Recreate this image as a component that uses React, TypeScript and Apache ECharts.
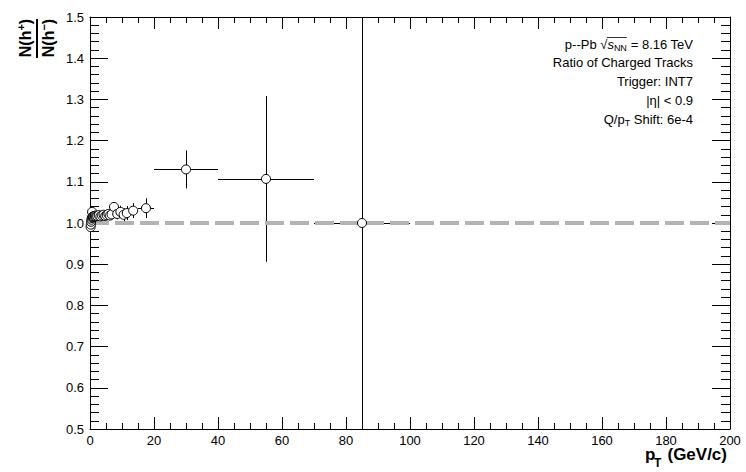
import React, { useEffect, useRef } from 'react';
import * as echarts from 'echarts';

// pT bins (GeV/c)
const binLow = [0.15, 0.2, 0.3, 0.4, 0.5, 0.6, 0.7, 0.8, 0.9, 1.0, 1.2, 1.4, 1.6, 1.8, 2.0, 2.5, 3.0, 3.5, 4.0, 4.5, 5.0, 5.5, 6.0, 6.5, 7.0, 8.0, 9.0, 10, 11, 12, 15, 20, 40, 70];
const binHigh = [0.2, 0.3, 0.4, 0.5, 0.6, 0.7, 0.8, 0.9, 1.0, 1.2, 1.4, 1.6, 1.8, 2.0, 2.5, 3.0, 3.5, 4.0, 4.5, 5.0, 5.5, 6.0, 6.5, 7.0, 8.0, 9.0, 10, 11, 12, 15, 20, 40, 70, 100];
const ptCenter = [0.175, 0.25, 0.35, 0.45, 0.55, 0.65, 0.75, 0.85, 0.95, 1.1, 1.3, 1.5, 1.7, 1.9, 2.25, 2.75, 3.25, 3.75, 4.25, 4.75, 5.25, 5.75, 6.25, 6.75, 7.5, 8.5, 9.5, 10.5, 11.5, 13.5, 17.5, 30, 55, 85];
// N(h+)/N(h-) ratio and its uncertainty
const ratio = [0.99, 0.996, 1.003, 1.008, 1.012, 1.027, 1.014, 1.015, 1.016, 1.015, 1.016, 1.017, 1.018, 1.016, 1.017, 1.019, 1.016, 1.018, 1.02, 1.017, 1.019, 1.022, 1.018, 1.021, 1.039, 1.022, 1.027, 1.02, 1.024, 1.03, 1.036, 1.13, 1.107, 1.0];
const ratioErr = [0.003, 0.003, 0.003, 0.003, 0.003, 0.003, 0.003, 0.003, 0.003, 0.003, 0.003, 0.003, 0.003, 0.003, 0.004, 0.004, 0.005, 0.005, 0.006, 0.006, 0.007, 0.008, 0.009, 0.01, 0.011, 0.013, 0.015, 0.016, 0.017, 0.018, 0.024, 0.046, 0.201, 0.9];

const legendLines = ['Ratio of Charged Tracks', 'Trigger: INT7', '|η| < 0.9'];

const FONT = '"Liberation Sans", Arial, Helvetica, sans-serif';

function measure(text: string, font: string): number {
  const ctx = document.createElement('canvas').getContext('2d');
  if (!ctx) return text.length * 6;
  ctx.font = font;
  return ctx.measureText(text).width;
}

export default function App() {
  const ref = useRef<HTMLDivElement>(null);
  useEffect(() => {
    const chart = echarts.init(ref.current!, undefined, { renderer: 'svg' });
    const points = ptCenter.map((x, i) => [x, ratio[i]]);
    const errData = ptCenter.map((x, i) => [x, ratio[i], binLow[i], binHigh[i], ratio[i] - ratioErr[i], ratio[i] + ratioErr[i]]);

    const xBase = {
      type: 'value', min: 0, max: 200, interval: 20,
      axisLine: { show: true, onZero: false, lineStyle: { color: '#000', width: 1 } },
      axisTick: { show: true, inside: true, length: 12, lineStyle: { color: '#000', width: 1 } },
      minorTick: { show: true, splitNumber: 4, length: 6, lineStyle: { color: '#000', width: 1 } },
      splitLine: { show: false }, minorSplitLine: { show: false },
    };
    const yBase = {
      type: 'value', min: 0.5, max: 1.5, interval: 0.1,
      axisLine: { show: true, onZero: false, lineStyle: { color: '#000', width: 1 } },
      axisTick: { show: true, inside: true, length: 18, lineStyle: { color: '#000', width: 1 } },
      minorTick: { show: true, splitNumber: 5, length: 9, lineStyle: { color: '#000', width: 1 } },
      splitLine: { show: false }, minorSplitLine: { show: false },
    };

    const LFS = 13;
    const legendText = (text: string, y: number) => ({
      type: 'text', x: 693, y,
      style: { text, fontSize: LFS, fontFamily: FONT, fill: '#000', align: 'right', verticalAlign: 'middle' },
    });

    // overline of the square root in the first legend line
    const wTail = measure(' = 8.16 TeV', `${LFS}px ${FONT}`);
    const wSub = measure('NN', `9px ${FONT}`);
    const wS = measure('s', `italic ${LFS}px ${FONT}`);
    const olX2 = 693 - wTail;
    const olX1 = olX2 - wSub - wS - 0.5;

    const option: any = {
      animation: false,
      grid: { left: 90, right: 16, top: 17, bottom: 43 },
      xAxis: [
        { ...xBase, position: 'bottom', axisLabel: { color: '#000', fontSize: 13, fontFamily: FONT, margin: 5 } },
        { ...xBase, position: 'top', axisLabel: { show: false } },
      ],
      yAxis: [
        { ...yBase, position: 'left', axisLabel: { color: '#000', fontSize: 13, fontFamily: FONT, margin: 6, formatter: (v: number) => v.toFixed(1) } },
        { ...yBase, position: 'right', axisLabel: { show: false } },
      ],
      series: [
        {
          type: 'custom', clip: true, z: 2, silent: true,
          encode: { x: 0, y: 1 },
          data: errData,
          renderItem: (params: any, api: any) => {
            const x = api.value(0), y = api.value(1);
            const c = api.coord([x, y]);
            const l = api.coord([api.value(2), y]);
            const r = api.coord([api.value(3), y]);
            const lo = api.coord([x, api.value(4)]);
            const hi = api.coord([x, api.value(5)]);
            const cx = Math.round(c[0]) + 0.5;
            const cy = Math.round(c[1]) + 0.5;
            const style = { stroke: '#000', lineWidth: 1 };
            return {
              type: 'group', children: [
                { type: 'line', shape: { x1: l[0], y1: cy, x2: r[0], y2: cy }, style },
                { type: 'line', shape: { x1: cx, y1: lo[1], x2: cx, y2: hi[1] }, style },
              ],
            };
          },
        },
        {
          type: 'line', z: 3, silent: true, showSymbol: false, symbol: 'none',
          data: [[0, 1], [200, 1]],
          lineStyle: { color: '#b3b3b3', width: 4, type: [19, 6] },
        },
        {
          type: 'scatter', z: 5, silent: true, symbol: 'circle', symbolSize: 9,
          data: points,
          itemStyle: { color: '#fff', borderColor: '#000', borderWidth: 1, opacity: 1 },
        },
      ],
      graphic: [
        {
          type: 'text', x: 693, y: 44,
          style: {
            text: '{a|p--Pb }{r|√}{i|s}{sub|NN}{a| = 8.16 TeV}',
            align: 'right', verticalAlign: 'middle', fill: '#000',
            rich: {
              a: { fontSize: LFS, fontFamily: FONT, lineHeight: 15 },
              r: { fontSize: LFS, fontFamily: FONT, lineHeight: 15 },
              i: { fontSize: LFS, fontFamily: FONT, fontStyle: 'italic', lineHeight: 15 },
              sub: { fontSize: 9, fontFamily: FONT, lineHeight: 15, padding: [8, 0, 0, 0] },
            },
          },
        },
        { type: 'line', shape: { x1: olX1, y1: 37.5, x2: olX2, y2: 37.5 }, style: { stroke: '#000', lineWidth: 0.8 } },
        legendText(legendLines[0], 62),
        legendText(legendLines[1], 81),
        legendText(legendLines[2], 100),
        {
          type: 'text', x: 693, y: 119,
          style: {
            text: '{a|Q/p}{sub|T}{a| Shift: 6e-4}',
            align: 'right', verticalAlign: 'middle', fill: '#000',
            rich: {
              a: { fontSize: LFS, fontFamily: FONT, lineHeight: 15 },
              sub: { fontSize: 9, fontFamily: FONT, lineHeight: 15, padding: [8, 0, 0, 0] },
            },
          },
        },
        // y-axis title: N(h+)/N(h-)
        {
          type: 'text', x: 25, y: 38, rotation: Math.PI / 2,
          style: {
            text: '{b|N(h}{sup|+}{b|)}', align: 'center', verticalAlign: 'middle', fill: '#000',
            rich: {
              b: { fontSize: 16, fontWeight: 'bold', fontFamily: FONT, lineHeight: 18 },
              sup: { fontSize: 11, fontWeight: 'bold', fontFamily: FONT, lineHeight: 18, padding: [0, 0, 9, 0] },
            },
          },
        },
        { type: 'line', shape: { x1: 37, y1: 19, x2: 37, y2: 58 }, style: { stroke: '#000', lineWidth: 2 } },
        {
          type: 'text', x: 48, y: 38, rotation: Math.PI / 2,
          style: {
            text: '{b|N(h}{sup|−}{b|)}', align: 'center', verticalAlign: 'middle', fill: '#000',
            rich: {
              b: { fontSize: 16, fontWeight: 'bold', fontFamily: FONT, lineHeight: 18 },
              sup: { fontSize: 11, fontWeight: 'bold', fontFamily: FONT, lineHeight: 18, padding: [0, 0, 9, 0] },
            },
          },
        },
        // x-axis title: pT (GeV/c)
        { type: 'text', x: 645, y: 454, style: { text: 'p', fontSize: 17, fontWeight: 'bold', fontFamily: FONT, fill: '#000', align: 'left', verticalAlign: 'middle' } },
        { type: 'text', x: 654, y: 462.5, style: { text: 'T', fontSize: 12, fontWeight: 'bold', fontFamily: FONT, fill: '#000', align: 'left', verticalAlign: 'middle' } },
        { type: 'text', x: 727, y: 454, style: { text: '(GeV/c)', fontSize: 17, fontWeight: 'bold', fontFamily: FONT, fill: '#000', align: 'right', verticalAlign: 'middle' } },
      ],
    };
    chart.setOption(option);
    return () => chart.dispose();
  }, []);
  return <div ref={ref} style={{ position: 'fixed', left: 0, top: 0, width: 746, height: 472, background: '#fff' }} />;
}
